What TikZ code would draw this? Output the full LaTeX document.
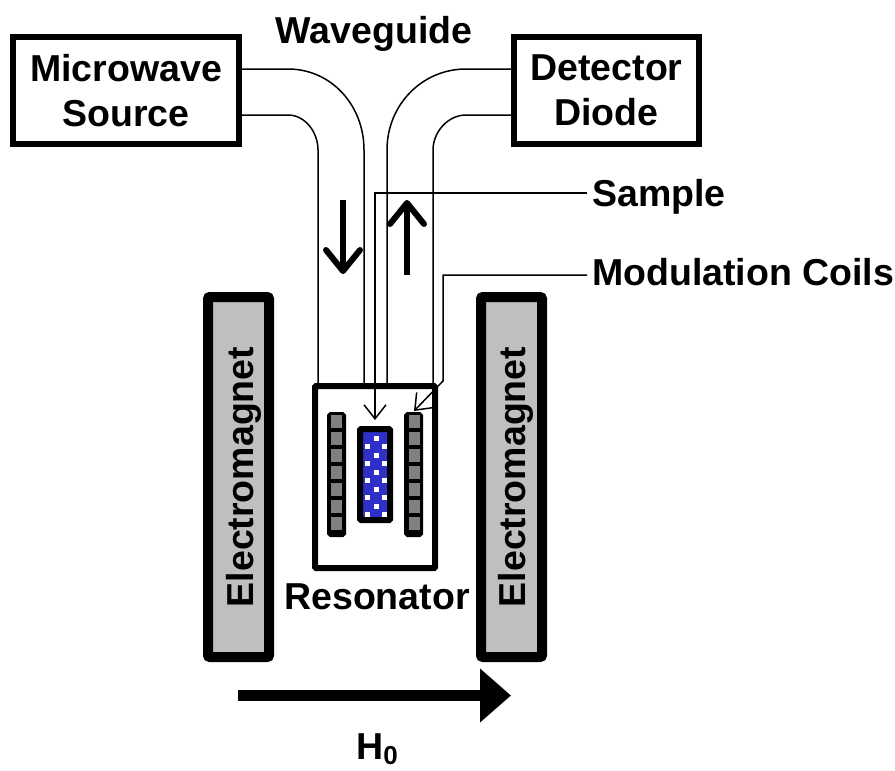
\documentclass[tikz,border=0pt]{standalone}
\usepackage{fontspec}
\setmainfont{Liberation Sans}
\usetikzlibrary{arrows,arrows.meta,positioning,calc}
\tikzset{
  label text/.style={font=\fontsize{37.5}{45}\selectfont\bfseries, inner sep=0pt, align=center},
  instrument/.style={draw, line width=6pt, minimum width=#1, minimum height=107pt, label text},
  magnet/.style={draw, line width=10pt, rounded corners=2pt, fill=black!25, minimum width=61pt, minimum height=360pt},
  guide/.style={draw, line width=1.5pt},
  pointer/.style={draw, line width=1.5pt, -{Straight Barb[length=14pt,width=22pt,line width=1.5pt]}},
  flow/.style={draw, line width=6.5pt, -{Straight Barb[length=21pt,width=34pt,line width=6pt,round]}},
  coil/.style={draw, fill=black, line width=6pt, rounded corners=1pt, minimum width=13pt, minimum height=119pt, inner sep=0pt},
  turn/.style={fill=black!50, minimum width=11pt, minimum height=12.5pt, inner sep=0pt},
  dot/.style={fill=white, minimum size=5pt, inner sep=0pt}
}
\begin{document}
\begin{tikzpicture}[x=1pt, y=-1pt]
        \useasboundingbox (0, 0) rectangle (895, 771);
        %nodes
        \node[instrument=226pt] (source) at (126, 90.5) {Microwave\\Source};
        \node[instrument=185pt] (diode) at (606.5, 90.5) {Detector\\Diode};
        \node[label text, anchor=base] (waveguide) at (374, 43) {Waveguide};
        \node[label text, anchor=base west] (sample) at (592, 206) {Sample};
        \node[label text, anchor=base west] (coils) at (592, 285) {Modulation Coils};
        \node[magnet] (magnetL) at (238.5, 477) {};
        \node[magnet] (magnetR) at (511.5, 477) {};
        \node[label text, rotate=90, anchor=base] (nameL) at (253, 477) {Electromagnet};
        \node[label text, rotate=90, anchor=base] (nameR) at (525, 477) {Electromagnet};
        \node[draw, line width=6pt, rounded corners=1pt, minimum width=120pt, minimum height=182pt] (resonator) at (375, 477) {};
        \node[label text, anchor=base] (resonatorlabel) at (377, 609) {Resonator};
        \node[label text, anchor=base west] (field) at (356, 759) {H\raisebox{-5pt}{\fontsize{26}{26}\selectfont 0}};
        \node[coil] (coilL) at (336.5, 474.5) {};
        \node[coil] (coilR) at (413.5, 474.5) {};
        \foreach \i in {0,...,6} {
          \node[turn] at (336.5, 421.5 + 17*\i) {};
          \node[turn] at (414.5, 421.5 + 17*\i) {};
        }
        \node[draw, line width=6pt, rounded corners=1pt, fill={rgb,255:red,48;green,48;blue,200}, minimum width=30pt, minimum height=91pt, inner sep=0pt] (vial) at (375, 474.5) {};
        \foreach \i in {0,...,4} {
          \node[dot] at (376, 438 + 17*\i) {};
          \node[dot] at (367.5, 446 + 17.2*\i) {};
          \node[dot] at (384.5, 446 + 17.2*\i) {};
        }
        %coordinates
        \coordinate (sourceA) at (source.east |- 0, 69);
        \coordinate (sourceB) at (source.east |- 0, 115);
        \coordinate (diodeA) at (diode.west |- 0, 69);
        \coordinate (diodeB) at (diode.west |- 0, 115);
        \coordinate (topA) at (318, 384);
        \coordinate (topB) at (364, 384);
        \coordinate (topC) at (387, 384);
        \coordinate (topD) at (433, 384);
        \coordinate (sampleEnd) at (587, 193);
        \coordinate (coilsEnd) at (587, 275);
        \coordinate (sampleTip) at (375, 420);
        \coordinate (coilTip) at (414, 411);
        \coordinate (downA) at (343, 200);
        \coordinate (downB) at (343, 274);
        \coordinate (upA) at (407, 275);
        \coordinate (upB) at (407, 200);
        \coordinate (fieldA) at (238, 695.5);
        \coordinate (fieldB) at (511, 695.5);
        %edges
        \path [guide] (sourceA) -- (288, 69) .. controls (331, 69) and (364, 105) .. (364, 150) -- (topB);
        \path [guide] (sourceB) -- (288, 115) .. controls (305, 115) and (318, 132) .. (318, 150) -- (topA);
        \path [guide] (diodeA) -- (466, 69) .. controls (422, 69) and (387, 105) .. (387, 150) -- (topC);
        \path [guide] (diodeB) -- (466, 115) .. controls (448, 115) and (433, 132) .. (433, 150) -- (topD);
        \path [pointer] (sampleEnd) -| (sampleTip);
        \path [pointer] (coilsEnd) -- (443, 275) -- (443, 381) -- (coilTip);
        \path [flow] (downA) -- (downB);
        \path [flow] (upA) -- (upB);
        \path [draw, line width=11pt, -{Triangle[length=31pt,width=52pt]}] (fieldA) -- (fieldB);
      \end{tikzpicture}
\end{document}
